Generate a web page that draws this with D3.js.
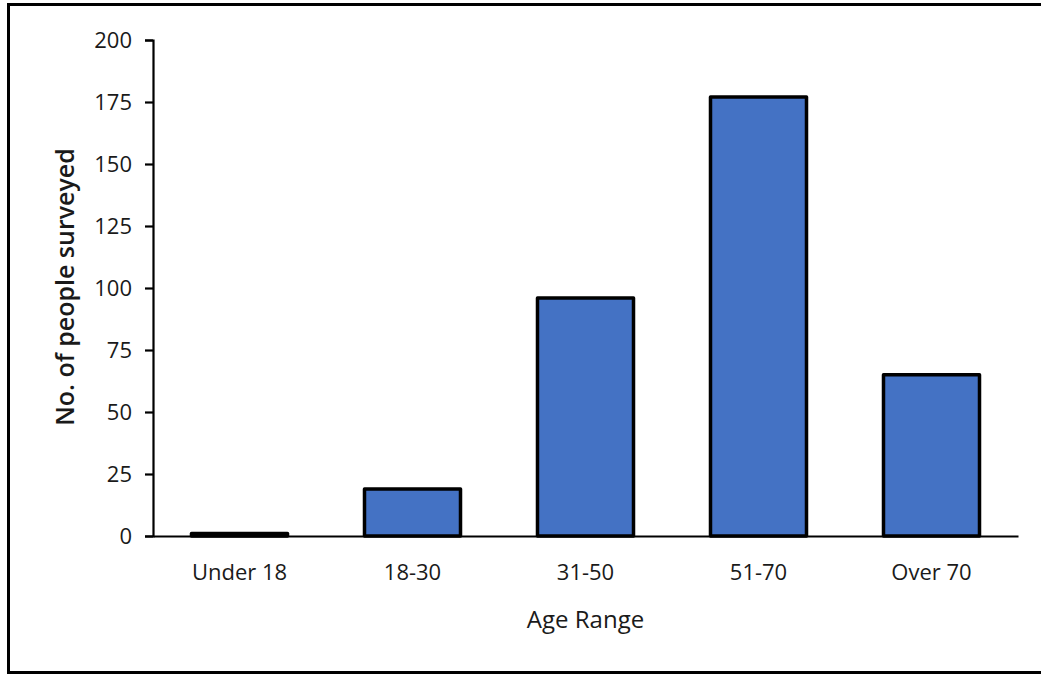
<!DOCTYPE html>
<html>
<head>
<meta charset="utf-8">
<script src="https://cdn.jsdelivr.net/npm/d3@7/dist/d3.min.js"></script>
<style>
  html, body { margin: 0; padding: 0; background: #fff; }
  svg { display: block; }
  text { font-family: "Open Sans", "Lato", sans-serif; fill: #1a1a1a; }
</style>
</head>
<body>
<svg id="chart" width="1041" height="677"></svg>
<script>
const categories = ["Under 18", "18-30", "31-50", "51-70", "Over 70"];
const values = [1, 19, 96, 177, 65];
const yTicks = [0, 25, 50, 75, 100, 125, 150, 175, 200];
const xTitle = "Age Range";
const yTitle = "No. of people surveyed";

const svg = d3.select("#chart");
const W = 1041, H = 677;

// outer border
svg.append("rect")
  .attr("x", 8.5).attr("y", 4.5)
  .attr("width", W + 10).attr("height", 668)
  .attr("fill", "none").attr("stroke", "#000").attr("stroke-width", 3);

const margin = { left: 153, right: 1018, top: 40, bottom: 536 };

const x = d3.scaleBand()
  .domain(categories)
  .range([margin.left, margin.right])
  .paddingInner(0.445)
  .paddingOuter(0.2225);

const y = d3.scaleLinear()
  .domain([0, 200])
  .range([margin.bottom, margin.top]);

// bars
svg.append("g").selectAll("rect")
  .data(categories)
  .join("rect")
  .attr("x", d => x(d))
  .attr("width", x.bandwidth())
  .attr("y", (d, i) => y(values[i]))
  .attr("height", (d, i) => y(0) - y(values[i]))
  .attr("fill", "#4472C4")
  .attr("stroke", "#000")
  .attr("stroke-width", 3.5)
  .attr("stroke-linejoin", "round");

// y axis
const yAxis = d3.axisLeft(y)
  .tickValues(yTicks)
  .tickSize(8)
  .tickPadding(13);
const gy = svg.append("g")
  .attr("transform", `translate(${margin.left},0)`)
  .call(yAxis);
gy.select(".domain").attr("stroke", "#000").attr("stroke-width", 2.2);
gy.selectAll(".tick line").attr("stroke", "#000").attr("stroke-width", 2.2);
gy.selectAll(".tick text")
  .style("font-family", '"Open Sans", sans-serif')
  .attr("font-size", 22).attr("fill", "#1a1a1a");

// x axis
const xAxis = d3.axisBottom(x).tickSize(0).tickPadding(28);
const gx = svg.append("g")
  .attr("transform", `translate(0,${margin.bottom})`)
  .call(xAxis);
gx.select(".domain").attr("stroke", "#000").attr("stroke-width", 2.2);
gx.selectAll(".tick text")
  .style("font-family", '"Open Sans", sans-serif')
  .attr("font-size", 22).attr("fill", "#1a1a1a");

// titles
svg.append("text")
  .attr("x", (margin.left + margin.right) / 2)
  .attr("y", 628)
  .attr("text-anchor", "middle")
  .attr("font-size", 24)
  .text(xTitle);

svg.append("text")
  .attr("transform", `translate(74,${(margin.top + margin.bottom) / 2 - 1}) rotate(-90)`)
  .attr("text-anchor", "middle")
  .attr("font-size", 25)
  .attr("font-weight", 600)
  .text(yTitle);
</script>
</body>
</html>
